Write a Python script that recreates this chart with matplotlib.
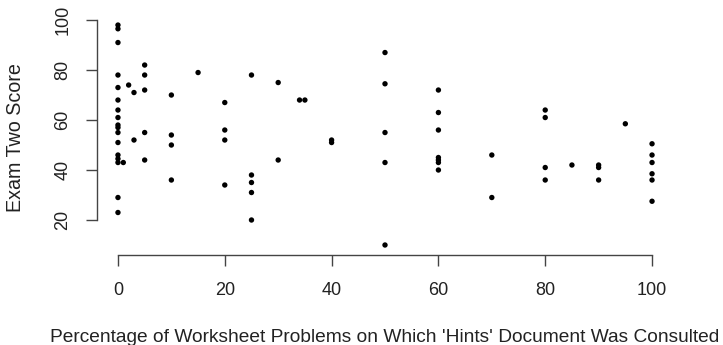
import matplotlib
matplotlib.use("Agg")
import matplotlib.pyplot as plt

hints_pct = [0]*17 + [1, 2, 3, 3, 5, 5, 5, 5, 5, 10, 10, 10, 10, 15,
             20, 20, 20, 20, 25, 25, 25, 25, 25, 30, 30, 34, 35, 40, 40,
             50, 50, 50, 50, 50, 60, 60, 60, 60, 60, 60, 60, 70, 70,
             80, 80, 80, 80, 85, 90, 90, 90, 95,
             100, 100, 100, 100, 100, 100]
exam2 = [98, 96.5, 91, 78, 73, 68, 64, 61, 58, 57, 55, 51, 46, 44.5, 43, 29, 23,
         43, 74, 71, 52, 82, 78, 72, 55, 44, 70, 54, 50, 36, 79,
         67, 56, 52, 34, 78, 38, 35, 31, 20, 75, 44, 68, 68, 52, 51,
         87, 74.5, 55, 43, 10, 72, 63, 56, 45, 44, 43, 40, 46, 29,
         64, 61, 41, 36, 42, 42, 41, 36, 58.5,
         50.5, 46, 43, 38.5, 36, 27.5]

x_ticks = [0, 20, 40, 60, 80, 100]
y_ticks = [20, 40, 60, 80, 100]
x_label = "Percentage of Worksheet Problems on Which 'Hints' Document Was Consulted"
y_label = "Exam Two Score"

plt.rcParams['font.family'] = ['Liberation Sans', 'DejaVu Sans']
W, H = 723, 345
fig = plt.figure(figsize=(W / 100, H / 100), dpi=100)
ax = fig.add_axes([96.6 / W, 1 - 254.5 / H, (673.4 - 96.6) / W, (254.5 - 16.3) / H])
ax.scatter(hints_pct, exam2, s=15, c='black', edgecolors='none')
ax.set_xlim(-4, 104)
ax.set_ylim(6.2, 101.5)
for s in ['top', 'right']:
    ax.spines[s].set_visible(False)
ax.spines['left'].set_bounds(20, 100)
ax.spines['bottom'].set_bounds(0, 100)
for s in ['left', 'bottom']:
    ax.spines[s].set_color('#444444')
    ax.spines[s].set_linewidth(1.0)
ax.set_xticks(x_ticks)
ax.set_yticks(y_ticks)
ax.tick_params(axis='both', length=8, width=1.0, color='#444444',
               labelsize=13, labelcolor='#222222')
ax.tick_params(axis='x', pad=12)
ax.tick_params(axis='y', pad=10)
for lbl in ax.get_yticklabels():
    lbl.set_rotation(90)
    lbl.set_va('center')
fig.text(385 / W, 1 - 341.7 / H, x_label, fontsize=13.8, color='#222222',
         ha='center', va='baseline')
fig.text(16 / W, 1 - 138 / H, y_label, fontsize=14.2, color='#222222',
         ha='center', va='center', rotation=90)
fig.savefig("out.png", dpi=100)
